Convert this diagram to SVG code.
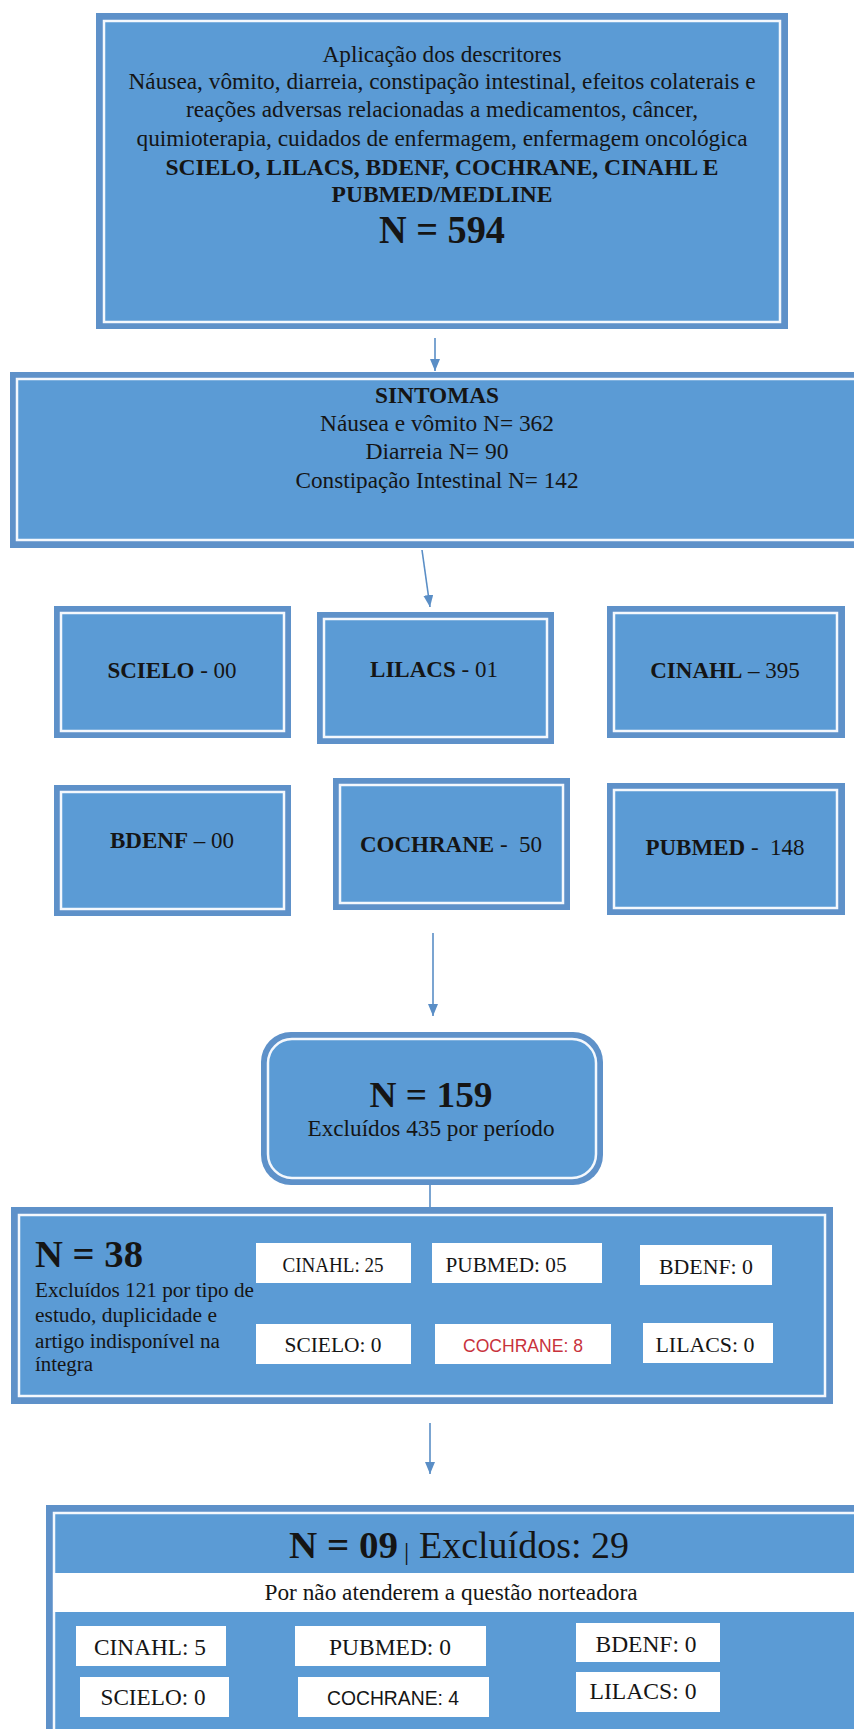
<svg xmlns="http://www.w3.org/2000/svg" width="854" height="1729" viewBox="0 0 854 1729">
<style>
.box{fill:#5E91C9}
.inner{fill:#5B9BD5;stroke:#F4F8FD;stroke-width:2.5}
.t{font-family:"Liberation Serif","Times New Roman",serif;fill:#151515;font-size:23px}
.c{text-anchor:middle}
.b{font-weight:bold}
.s{font-family:"Liberation Sans",Arial,sans-serif}
.wb{fill:#FFFFFF}
.conn{stroke:#5A8EC6;stroke-width:1.6;fill:none}
</style>
<defs>
<marker id="ah" markerUnits="userSpaceOnUse" markerWidth="12" markerHeight="10" refX="12" refY="5" orient="auto">
<path d="M0,0 L12,5 L0,10 z" fill="#5A8EC6"/>
</marker>
</defs>
<rect width="854" height="1729" fill="#FFFFFF"/>

<g id="connectors">
<line class="conn" x1="435" y1="338" x2="435" y2="371" marker-end="url(#ah)"/>
<line class="conn" x1="422" y1="550" x2="430" y2="607" marker-end="url(#ah)"/>
<line class="conn" x1="433" y1="933" x2="433" y2="1016" marker-end="url(#ah)"/>
<line class="conn" x1="430" y1="1185" x2="430" y2="1207"/>
<line class="conn" x1="430" y1="1423" x2="430" y2="1474" marker-end="url(#ah)"/>
</g>

<g id="node-descritores">
<rect class="box" x="96" y="13" width="692" height="316"/>
<rect class="inner" x="104" y="21" width="676" height="301"/>
<text class="t c" x="442" y="62" textLength="239" lengthAdjust="spacingAndGlyphs">Aplicação dos descritores</text>
<text class="t c" x="442" y="89" textLength="627" lengthAdjust="spacingAndGlyphs">Náusea, vômito, diarreia, constipação intestinal, efeitos colaterais e</text>
<text class="t c" x="442" y="117" textLength="512" lengthAdjust="spacingAndGlyphs">reações adversas relacionadas a medicamentos, câncer,</text>
<text class="t c" x="442" y="146" textLength="611" lengthAdjust="spacingAndGlyphs">quimioterapia, cuidados de enfermagem, enfermagem oncológica</text>
<text class="t c b" x="442" y="175" textLength="553" lengthAdjust="spacingAndGlyphs">SCIELO, LILACS, BDENF, COCHRANE, CINAHL E</text>
<text class="t c b" x="442" y="202" textLength="221" lengthAdjust="spacingAndGlyphs">PUBMED/MEDLINE</text>
<text class="t c b" x="442" y="243" style="font-size:40px" textLength="126" lengthAdjust="spacingAndGlyphs">N = 594</text>
</g>

<g id="node-sintomas">
<rect class="box" x="10" y="372" width="870" height="176"/>
<rect class="inner" x="17" y="379" width="860" height="161"/>
<text class="t c b" x="437" y="403" textLength="124" lengthAdjust="spacingAndGlyphs">SINTOMAS</text>
<text class="t c" x="437" y="431" textLength="234" lengthAdjust="spacingAndGlyphs">Náusea e vômito N= 362</text>
<text class="t c" x="437" y="459" textLength="143" lengthAdjust="spacingAndGlyphs">Diarreia N= 90</text>
<text class="t c" x="437" y="488" textLength="283" lengthAdjust="spacingAndGlyphs">Constipação Intestinal N= 142</text>
</g>

<g id="node-scielo">
<rect class="box" x="54" y="606" width="237" height="132"/>
<rect class="inner" x="61" y="613" width="223" height="118"/>
<text class="t c" x="172" y="678"><tspan class="b">SCIELO</tspan> - 00</text>
</g>
<g id="node-lilacs">
<rect class="box" x="317" y="612" width="237" height="132"/>
<rect class="inner" x="324" y="619" width="223" height="118"/>
<text class="t c" x="434" y="677"><tspan class="b">LILACS</tspan> - 01</text>
</g>
<g id="node-cinahl">
<rect class="box" x="607" y="606" width="238" height="132"/>
<rect class="inner" x="614" y="613" width="223" height="118"/>
<text class="t c" x="725" y="678"><tspan class="b">CINAHL</tspan> – 395</text>
</g>
<g id="node-bdenf">
<rect class="box" x="54" y="785" width="237" height="131"/>
<rect class="inner" x="61" y="792" width="223" height="117"/>
<text class="t c" x="172" y="848"><tspan class="b">BDENF</tspan> – 00</text>
</g>
<g id="node-cochrane">
<rect class="box" x="333" y="778" width="237" height="132"/>
<rect class="inner" x="340" y="785" width="223" height="118"/>
<text class="t c" x="451" y="852" xml:space="preserve"><tspan class="b">COCHRANE</tspan> -  50</text>
</g>
<g id="node-pubmed">
<rect class="box" x="607" y="783" width="238" height="132"/>
<rect class="inner" x="614" y="790" width="223" height="118"/>
<text class="t c" x="725" y="855" xml:space="preserve"><tspan class="b">PUBMED</tspan> -  148</text>
</g>

<g id="node-n159">
<rect class="box" x="261" y="1032" width="342" height="153" rx="30" ry="30"/>
<rect class="inner" x="268" y="1039" width="328" height="139" rx="24" ry="24"/>
<text class="t c b" x="431" y="1107" style="font-size:36px" textLength="123" lengthAdjust="spacingAndGlyphs">N = 159</text>
<text class="t c" x="431" y="1136" textLength="247" lengthAdjust="spacingAndGlyphs">Excluídos 435 por período</text>
</g>

<g id="node-n38">
<rect class="box" x="11" y="1207" width="822" height="197"/>
<rect class="inner" x="19" y="1215" width="806" height="181"/>
<text class="t b" x="35" y="1267" style="font-size:38px" textLength="108" lengthAdjust="spacingAndGlyphs">N = 38</text>
<text class="t" x="35" y="1297" style="font-size:20px" textLength="219" lengthAdjust="spacingAndGlyphs">Excluídos 121 por tipo de</text>
<text class="t" x="35" y="1322" style="font-size:20px" textLength="182" lengthAdjust="spacingAndGlyphs">estudo, duplicidade e</text>
<text class="t" x="35" y="1348" style="font-size:20px" textLength="185" lengthAdjust="spacingAndGlyphs">artigo indisponível na</text>
<text class="t" x="35" y="1371" style="font-size:20px" textLength="58" lengthAdjust="spacingAndGlyphs">íntegra</text>
<rect class="wb" x="256" y="1243" width="155" height="40"/>
<text class="t c" x="333" y="1272" style="font-size:22px" textLength="101" lengthAdjust="spacingAndGlyphs">CINAHL: 25</text>
<rect class="wb" x="432" y="1243" width="170" height="40"/>
<text class="t c" x="506" y="1272" style="font-size:22px" textLength="121" lengthAdjust="spacingAndGlyphs">PUBMED: 05</text>
<rect class="wb" x="640" y="1245" width="132" height="40"/>
<text class="t c" x="706" y="1274" style="font-size:22px" textLength="94" lengthAdjust="spacingAndGlyphs">BDENF: 0</text>
<rect class="wb" x="256" y="1324" width="155" height="40"/>
<text class="t c" x="333" y="1352" style="font-size:22px" textLength="97" lengthAdjust="spacingAndGlyphs">SCIELO: 0</text>
<rect class="wb" x="435" y="1324" width="176" height="40"/>
<text class="t c s" x="523" y="1352" style="font-size:19px;fill:#C8323C" textLength="120" lengthAdjust="spacingAndGlyphs">COCHRANE: 8</text>
<rect class="wb" x="643" y="1323" width="130" height="40"/>
<text class="t c" x="705" y="1352" style="font-size:22px" textLength="99" lengthAdjust="spacingAndGlyphs">LILACS: 0</text>
</g>

<g id="node-n09">
<rect class="box" x="46" y="1505" width="900" height="300"/>
<rect class="inner" x="54" y="1513" width="880" height="280"/>
<rect class="wb" x="53" y="1573" width="810" height="39"/>
<text class="t b" x="289" y="1558" style="font-size:38px" textLength="109" lengthAdjust="spacingAndGlyphs">N = 09</text>
<text class="t" x="404" y="1560" style="font-size:26px">|</text>
<text class="t" x="419" y="1558" style="font-size:38px" textLength="210" lengthAdjust="spacingAndGlyphs">Excluídos: 29</text>
<text class="t c" x="451" y="1600" textLength="373" lengthAdjust="spacingAndGlyphs">Por não atenderem a questão norteadora</text>
<rect class="wb" x="76" y="1626" width="150" height="40"/>
<text class="t c" x="150" y="1655" textLength="112" lengthAdjust="spacingAndGlyphs">CINAHL: 5</text>
<rect class="wb" x="295" y="1626" width="191" height="40"/>
<text class="t c" x="390" y="1655" textLength="122" lengthAdjust="spacingAndGlyphs">PUBMED: 0</text>
<rect class="wb" x="576" y="1623" width="144" height="39"/>
<text class="t c" x="646" y="1652" textLength="101" lengthAdjust="spacingAndGlyphs">BDENF: 0</text>
<rect class="wb" x="80" y="1677" width="149" height="40"/>
<text class="t c" x="153" y="1705" textLength="105" lengthAdjust="spacingAndGlyphs">SCIELO: 0</text>
<rect class="wb" x="298" y="1677" width="191" height="40"/>
<text class="t c s" x="393" y="1705" style="font-size:20px" textLength="132" lengthAdjust="spacingAndGlyphs">COCHRANE: 4</text>
<rect class="wb" x="576" y="1672" width="144" height="40"/>
<text class="t c" x="643" y="1699" textLength="107" lengthAdjust="spacingAndGlyphs">LILACS: 0</text>
</g>
</svg>
